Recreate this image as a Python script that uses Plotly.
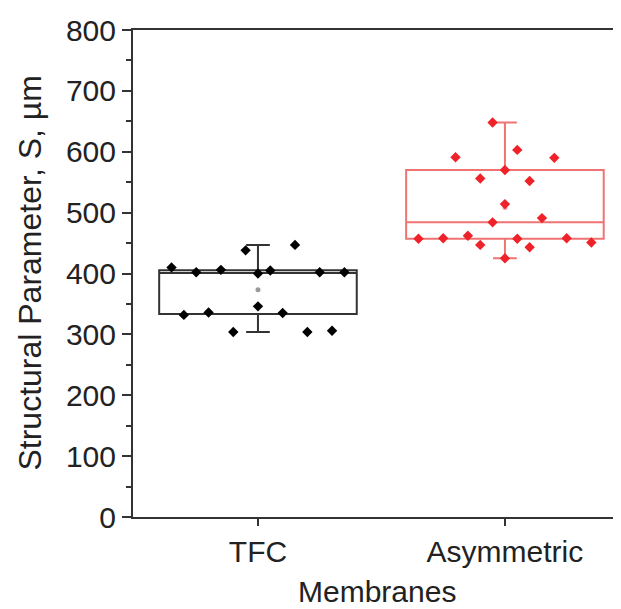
import plotly.graph_objects as go
import numpy as np

categories = ["TFC", "Asymmetric"]

# Structural parameter values (µm)
tfc_values = [410, 402, 406, 438, 400, 405, 447, 402, 402, 332, 336, 346, 335, 304, 304, 306]
tfc_offsets = [-0.35, -0.25, -0.15, -0.05, 0.0, 0.05, 0.15, 0.25, 0.35, -0.30, -0.20, 0.0, 0.10, -0.10, 0.20, 0.30]

asym_values = [648, 591, 603, 590, 570, 556, 552, 514, 484, 491, 457, 458, 462, 447, 457, 443, 458, 451, 425]
asym_offsets = [-0.05, -0.20, 0.05, 0.20, 0.0, -0.10, 0.10, 0.0, -0.05, 0.15, -0.35, -0.25, -0.15, -0.10, 0.05, 0.10, 0.25, 0.35, 0.0]

y_ticks = [0, 100, 200, 300, 400, 500, 600, 700, 800]

FONT = "Liberation Sans, Arial, sans-serif"
AX = "#333333"

groups = [
    (0, tfc_values, tfc_offsets, "#000000", "#333333", "#9a9a9a"),
    (1, asym_values, asym_offsets, "#ef2229", "#f07373", "#f4a0a0"),
]

fig = go.Figure()
for idx, vals, offs, mcol, bcol, meancol in groups:
    fig.add_trace(go.Box(
        x=[idx] * len(vals), y=vals,
        boxpoints=False, quartilemethod="exclusive",
        width=0.8, whiskerwidth=0.12,
        line=dict(color=bcol, width=2),
        fillcolor="rgba(0,0,0,0)",
        showlegend=False, hoverinfo="skip",
    ))
    fig.add_trace(go.Scatter(
        x=[idx], y=[float(np.mean(vals))], mode="markers",
        marker=dict(symbol="circle", size=5, color=meancol),
        showlegend=False,
    ))
    fig.add_trace(go.Scatter(
        x=[idx + o for o in offs], y=vals, mode="markers",
        marker=dict(symbol="diamond", size=8, color=mcol, line=dict(width=0)),
        showlegend=False,
    ))

# the page body has an 8px margin, so the figure is sized and offset to fit
fig.update_layout(
    width=613, height=601,
    margin=dict(l=125, r=0, t=22, b=92),
    plot_bgcolor="white", paper_bgcolor="white",
    font=dict(family=FONT, size=30, color="#222222"),
    xaxis=dict(
        range=[-0.506, 1.47],
        tickvals=[0, 1], ticktext=categories,
        showline=True, linecolor=AX, linewidth=2, mirror=True,
        ticks="outside", ticklen=7, tickwidth=1.5, tickcolor=AX,
        showgrid=False, zeroline=False,
        tickfont=dict(size=30),
    ),
    yaxis=dict(
        range=[0, 800],
        tickvals=y_ticks,
        showline=True, linecolor=AX, linewidth=2,
        ticks="outside", ticklen=9, tickwidth=1.5, tickcolor=AX,
        minor=dict(ticks="outside", ticklen=5, dtick=50, tickwidth=1.5, tickcolor=AX),
        showgrid=False, zeroline=False,
        tickfont=dict(size=30),
    ),
    annotations=[
        dict(text="Structural Parameter, S, µm", xref="paper", yref="paper",
             x=-0.213, y=0.5, xanchor="center", yanchor="middle",
             textangle=-90, showarrow=False, font=dict(size=32)),
        dict(text="Membranes", xref="paper", yref="paper",
             x=0.5, y=-0.114, xanchor="center", yanchor="top",
             showarrow=False, font=dict(size=30)),
    ],
)

fig.write_html("out.html")
